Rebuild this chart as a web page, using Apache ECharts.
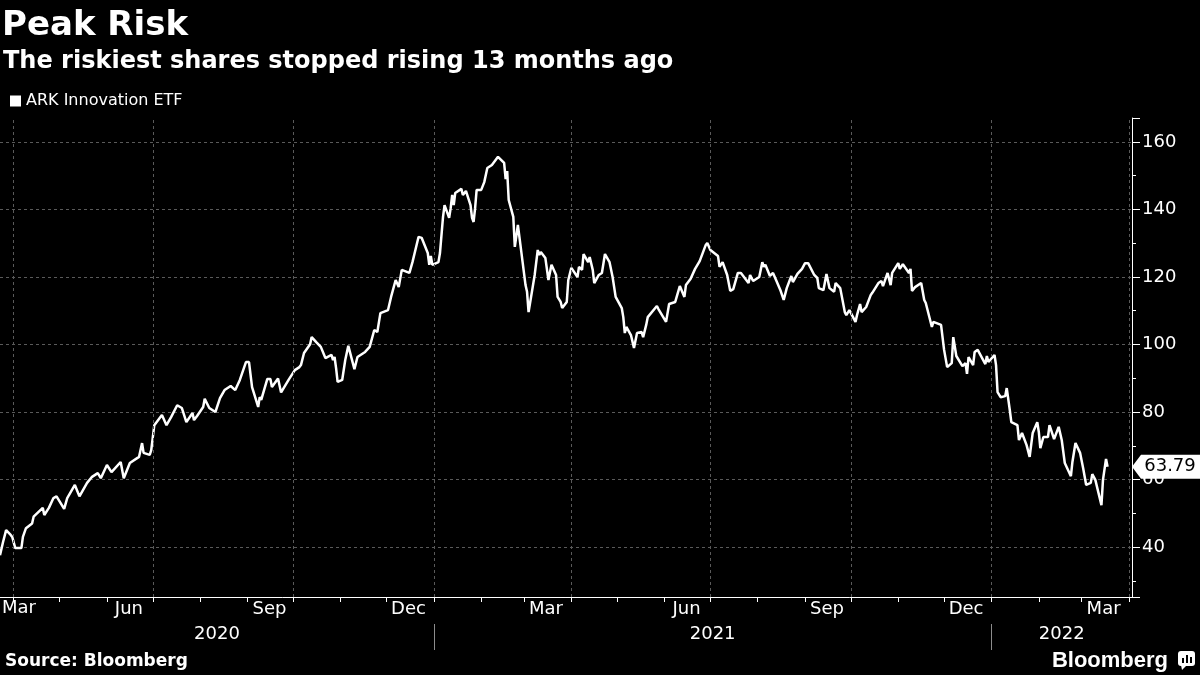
<!DOCTYPE html>
<html>
<head>
<meta charset="utf-8">
<title>Peak Risk</title>
<script src="https://cdn.jsdelivr.net/npm/echarts@6/dist/echarts.min.js"></script>
<style>
    html, body { margin: 0; padding: 0; background: #000; }
    #chart { width: 1200px; height: 675px; }
</style>
</head>
<body>
<div id="chart"></div>
<script>
// ARK Innovation ETF closing prices
var dates = [
    '2020-03-23','2020-03-25','2020-03-27','2020-03-30','2020-03-31','2020-04-02','2020-04-06','2020-04-07','2020-04-09','2020-04-13',
    '2020-04-14','2020-04-20','2020-04-21','2020-04-24','2020-04-27','2020-04-29','2020-05-04','2020-05-06','2020-05-11','2020-05-14',
    '2020-05-19','2020-05-22','2020-05-26','2020-05-28','2020-06-01','2020-06-04','2020-06-10','2020-06-12','2020-06-16','2020-06-22',
    '2020-06-24','2020-06-25','2020-06-29','2020-06-30','2020-07-02','2020-07-07','2020-07-10','2020-07-13','2020-07-17','2020-07-20',
    '2020-07-23','2020-07-27','2020-07-28','2020-07-30','2020-08-03','2020-08-04','2020-08-07','2020-08-11','2020-08-14','2020-08-17',
    '2020-08-21','2020-08-24','2020-08-27','2020-08-28','2020-08-31','2020-09-02','2020-09-04','2020-09-08','2020-09-09','2020-09-10',
    '2020-09-14','2020-09-16','2020-09-17','2020-09-21','2020-09-23','2020-09-28','2020-09-30','2020-10-02','2020-10-05','2020-10-06',
    '2020-10-08','2020-10-12','2020-10-13','2020-10-16','2020-10-19','2020-10-22','2020-10-26','2020-10-27','2020-10-28','2020-10-29',
    '2020-10-30','2020-11-02','2020-11-04','2020-11-06','2020-11-10','2020-11-12','2020-11-17','2020-11-20','2020-11-23','2020-11-25',
    '2020-11-27','2020-12-02','2020-12-04','2020-12-07','2020-12-09','2020-12-11','2020-12-16','2020-12-18','2020-12-22','2020-12-24',
    '2020-12-28','2020-12-29','2020-12-30','2020-12-31',
    '2021-01-04','2021-01-05','2021-01-07','2021-01-08','2021-01-11','2021-01-12','2021-01-13','2021-01-14','2021-01-15','2021-01-19',
    '2021-01-20','2021-01-22','2021-01-25','2021-01-26','2021-01-27','2021-01-28','2021-01-29','2021-02-01','2021-02-03','2021-02-05',
    '2021-02-08','2021-02-12','2021-02-16','2021-02-17','2021-02-18','2021-02-19','2021-02-22','2021-02-23','2021-02-25','2021-02-26',
    '2021-03-02','2021-03-03','2021-03-04','2021-03-08','2021-03-09','2021-03-10','2021-03-11','2021-03-12','2021-03-15','2021-03-17',
    '2021-03-19','2021-03-22','2021-03-23','2021-03-25','2021-03-26','2021-03-29','2021-03-30','2021-04-01','2021-04-05','2021-04-06',
    '2021-04-08','2021-04-09','2021-04-12','2021-04-13','2021-04-15','2021-04-16','2021-04-19','2021-04-21','2021-04-23','2021-04-26',
    '2021-04-28','2021-04-30','2021-05-04','2021-05-05','2021-05-06','2021-05-07','2021-05-10','2021-05-12','2021-05-14','2021-05-17',
    '2021-05-18','2021-05-20','2021-05-21','2021-05-27','2021-05-28','2021-06-02','2021-06-04','2021-06-08','2021-06-11','2021-06-14',
    '2021-06-15','2021-06-18','2021-06-21','2021-06-24','2021-06-28','2021-06-29','2021-07-01','2021-07-06','2021-07-07','2021-07-09',
    '2021-07-12','2021-07-14','2021-07-16','2021-07-19','2021-07-21','2021-07-22','2021-07-26','2021-07-27','2021-07-29','2021-08-02',
    '2021-08-04','2021-08-05','2021-08-06','2021-08-09','2021-08-11','2021-08-13','2021-08-16','2021-08-18','2021-08-20','2021-08-23',
    '2021-08-24','2021-08-27','2021-08-30','2021-09-01','2021-09-03','2021-09-07','2021-09-09','2021-09-10','2021-09-13','2021-09-15',
    '2021-09-17','2021-09-20','2021-09-21','2021-09-24','2021-09-27','2021-09-28','2021-09-30','2021-10-04','2021-10-05','2021-10-07',
    '2021-10-08','2021-10-11','2021-10-14','2021-10-15','2021-10-19','2021-10-21','2021-10-22','2021-10-25','2021-10-27','2021-10-28',
    '2021-11-01','2021-11-02','2021-11-04','2021-11-08','2021-11-09','2021-11-10','2021-11-12','2021-11-16','2021-11-18','2021-11-19',
    '2021-11-23','2021-11-24','2021-11-29','2021-12-01','2021-12-03','2021-12-06','2021-12-07','2021-12-09','2021-12-13','2021-12-15',
    '2021-12-16','2021-12-17','2021-12-20','2021-12-21','2021-12-23','2021-12-28','2021-12-29','2021-12-30',
    '2022-01-03','2022-01-04','2022-01-05','2022-01-07','2022-01-10','2022-01-11','2022-01-13','2022-01-14','2022-01-18','2022-01-19',
    '2022-01-21','2022-01-24','2022-01-26','2022-01-28','2022-01-31','2022-02-01','2022-02-02','2022-02-04','2022-02-07','2022-02-08',
    '2022-02-11','2022-02-14','2022-02-16','2022-02-18','2022-02-22','2022-02-23','2022-02-25','2022-02-28','2022-03-02','2022-03-04',
    '2022-03-07','2022-03-08','2022-03-10','2022-03-14','2022-03-15','2022-03-17','2022-03-18'
];
var prices = [
    37.6, 41.5, 45.0, 43.6, 43.0, 39.7, 39.7, 43.0, 45.6, 47.0,
    49.0, 51.6, 49.5, 51.6, 54.5, 55.0, 51.3, 54.5, 58.4, 55.0,
    59.0, 60.7, 61.9, 60.4, 64.3, 62.2, 65.2, 60.4, 64.9, 66.7,
    70.8, 67.9, 67.3, 68.7, 76.1, 79.1, 76.1, 78.5, 82.0, 81.2,
    77.0, 79.7, 77.6, 78.8, 81.5, 83.9, 81.2, 80.0, 84.1, 86.5,
    87.7, 86.5, 89.5, 89.5, 94.8, 94.8, 87.4, 81.5, 84.4, 83.6,
    89.8, 89.8, 87.4, 89.9, 85.8, 89.6, 91.0, 92.4, 93.3, 93.9,
    97.5, 100.1, 102.2, 100.7, 99.3, 96.0, 96.9, 95.4, 96.3, 93.0,
    88.9, 89.5, 95.4, 99.6, 92.7, 96.3, 97.8, 99.3, 104.3, 103.7,
    109.3, 110.2, 114.1, 119.1, 117.0, 122.1, 121.2, 124.4, 131.9, 131.6,
    127.1, 123.6, 126.2, 123.6,
    124.4, 127.1, 137.8, 141.3, 137.5, 140.4, 144.3, 141.3, 144.9, 146.1,
    144.3, 145.5, 141.3, 137.5, 136.3, 140.4, 145.8, 145.8, 148.1, 152.3,
    153.2, 155.6, 153.8, 149.0, 151.4, 142.8, 137.8, 128.9, 135.4, 131.9,
    117.6, 115.6, 109.6, 120.6, 121.0, 128.0, 126.5, 127.4, 125.6, 119.1,
    123.6, 120.6, 114.1, 112.6, 110.8, 112.6, 119.1, 122.7, 120.0, 123.0,
    122.1, 126.8, 124.4, 125.9, 122.1, 118.2, 120.6, 121.2, 126.8, 124.4,
    120.0, 114.1, 110.8, 108.1, 103.4, 105.2, 102.8, 99.0, 103.4, 103.7,
    102.2, 105.8, 108.1, 111.4, 110.5, 106.7, 112.0, 112.6, 117.3, 114.1,
    117.6, 119.4, 122.4, 124.7, 129.5, 130.1, 128.0, 126.2, 123.0, 124.4,
    120.6, 115.9, 116.4, 121.2, 121.2, 121.5, 118.2, 120.6, 118.8, 120.0,
    124.4, 123.0, 123.6, 120.3, 121.2, 119.1, 115.9, 113.2, 116.7, 120.3,
    118.5, 120.9, 122.4, 124.1, 124.1, 120.6, 119.7, 116.7, 116.1, 120.9,
    116.7, 115.6, 118.2, 116.7, 109.6, 108.7, 110.2, 106.7, 108.7, 112.0,
    109.6, 111.1, 114.7, 115.3, 118.2, 118.8, 117.3, 121.2, 117.6, 121.2,
    124.1, 122.4, 123.8, 121.2, 122.4, 115.9, 117.0, 118.2, 113.2, 112.3,
    105.2, 106.7, 105.8, 98.4, 93.3, 94.5, 102.2, 96.6, 93.6, 94.5,
    91.3, 96.3, 93.9, 97.8, 98.4, 94.2, 96.6, 94.8,
    96.9, 93.9, 85.9, 84.4, 84.7, 87.1, 80.6, 77.0, 76.1, 71.7,
    73.8, 70.2, 66.7, 73.8, 77.0, 74.1, 69.3, 72.6, 72.6, 76.1,
    72.0, 75.6, 71.7, 64.9, 61.0, 65.2, 70.8, 67.9, 63.4, 58.4,
    59.0, 61.6, 59.9, 52.4, 59.9, 66.1, 63.79
];

var seriesName = 'ARK Innovation ETF';
var axisStart = '2020-03-23';
var axisEnd = '2022-04-03';
var quarterStarts = ['2020-04-01','2020-07-01','2020-10-01','2021-01-01','2021-04-01',
                     '2021-07-01','2021-10-01','2022-01-01','2022-04-01'];
var years = ['2020', '2021', '2022'];
var monthNames = ['Jan','Feb','Mar','Apr','May','Jun','Jul','Aug','Sep','Oct','Nov','Dec'];
var labelMonths = [2, 5, 8, 11];

var DAY = 24 * 3600 * 1000;
var font = 'DejaVu Sans';

var seriesData = dates.map(function (d, i) { return [d, prices[i]]; });
var lastPrice = prices[prices.length - 1];

var chart = echarts.init(document.getElementById('chart'));

var option = {
    backgroundColor: '#000',
    animation: false,
    textStyle: { fontFamily: font },
    title: [
        {
            text: 'Peak Risk', left: 2, top: 9, padding: 0,
            textStyle: { color: '#fff', fontSize: 34, fontWeight: 'bold', fontFamily: font }
        },
        {
            text: 'The riskiest shares stopped rising 13 months ago', left: 3, top: 50, padding: 0,
            textStyle: { color: '#fff', fontSize: 24, fontWeight: 'bold', fontFamily: font }
        },
        {
            text: 'Source: Bloomberg', left: 5, top: 653, padding: 0,
            textStyle: { color: '#fff', fontSize: 17, fontWeight: 'bold', fontFamily: font }
        }
    ],
    legend: {
        data: [seriesName],
        left: 10, top: 93, padding: 0,
        icon: 'rect', itemWidth: 11, itemHeight: 11, itemGap: 4,
        textStyle: { color: '#fff', fontSize: 16, fontFamily: font },
        selectedMode: false
    },
    grid: { left: 0, right: 68, top: 118, bottom: 78 },
    xAxis: {
        type: 'time',
        min: axisStart,
        max: axisEnd,
        minInterval: 28 * DAY,
        maxInterval: 31 * DAY,
        axisLine: { lineStyle: { color: '#fff', width: 1 } },
        axisTick: { show: true, length: 5, lineStyle: { color: '#fff' } },
        splitLine: { show: false },
        axisLabel: {
            color: '#fff', fontSize: 18, fontFamily: font, margin: 3,
            align: 'center', padding: [0, 0, 0, 44],
            formatter: function (value) {
                var d = new Date(value);
                if (d.getDate() === 1 && labelMonths.indexOf(d.getMonth()) >= 0) {
                    return monthNames[d.getMonth()];
                }
                return '';
            }
        }
    },
    yAxis: {
        type: 'value',
        position: 'right',
        min: 25.2,
        max: 167.1,
        splitNumber: 7,
        axisLine: { show: true, lineStyle: { color: '#fff', width: 1 } },
        axisTick: { show: true, length: 8, lineStyle: { color: '#fff' } },
        minorTick: { show: true, splitNumber: 2, length: 4, lineStyle: { color: '#fff' } },
        axisLabel: {
            color: '#fff', fontSize: 18, fontFamily: font, margin: 10,
            showMinLabel: false, showMaxLabel: false
        },
        splitLine: {
            show: true, showMinLine: false, showMaxLine: false,
            lineStyle: { color: '#5a5a5a', type: [3, 3], width: 1 }
        }
    },
    series: [{
        name: seriesName,
        type: 'line',
        data: seriesData,
        showSymbol: false,
        symbol: 'none',
        color: '#fff',
        lineStyle: { color: '#fff', width: 2.5 },
        emphasis: { disabled: true },
        markLine: {
            silent: true,
            symbol: ['none', 'none'],
            label: { show: false },
            lineStyle: { color: '#5a5a5a', type: [3, 3], width: 1 },
            data: quarterStarts.map(function (q) { return { xAxis: q }; })
        },
        markPoint: {
            silent: true,
            symbol: 'path://M0,12 L9,0 L70,0 L70,24 L9,24 Z',
            symbolSize: [70, 24],
            symbolOffset: [35, 0],
            symbolKeepAspect: false,
            itemStyle: { color: '#fff' },
            label: {
                show: true, color: '#000', fontSize: 18, fontFamily: font,
                offset: [3, 0],
                formatter: function () { return lastPrice.toFixed(2); }
            },
            data: [{ coord: [axisEnd, lastPrice] }]
        }
    }]
};
chart.setOption(option);

// year row and branding, placed with the axis scale
function buildGraphics() {
    var x0 = chart.convertToPixel({ xAxisIndex: 0 }, axisStart);
    var x1 = chart.convertToPixel({ xAxisIndex: 0 }, axisEnd);
    var elements = [];
    years.forEach(function (y, i) {
        var left = i === 0 ? x0 : chart.convertToPixel({ xAxisIndex: 0 }, y + '-01-01');
        var right = i === years.length - 1 ? x1 : chart.convertToPixel({ xAxisIndex: 0 }, years[i + 1] + '-01-01');
        if (i > 0) {
            elements.push({
                type: 'line', silent: true,
                shape: { x1: Math.round(left) + 0.5, y1: 624, x2: Math.round(left) + 0.5, y2: 650 },
                style: { stroke: '#8c8c8c', lineWidth: 1 }
            });
        }
        elements.push({
            type: 'text', silent: true,
            x: (left + right) / 2, y: 634,
            style: {
                text: y, fill: '#fff', font: '18px "' + font + '"',
                align: 'center', verticalAlign: 'middle'
            }
        });
    });
    // first month label, its tick falls before the axis start
    elements.push({
        type: 'text', silent: true, x: 2, y: 608,
        style: { text: 'Mar', fill: '#fff', font: '18px "' + font + '"', align: 'left', verticalAlign: 'middle' }
    });
    // Bloomberg mark
    elements.push({
        type: 'text', silent: true, x: 1168, y: 661,
        style: {
            text: 'Bloomberg', fill: '#fff', font: 'bold 22px "Liberation Sans"',
            align: 'right', verticalAlign: 'middle'
        }
    });
    elements.push({
        type: 'group', silent: true, x: 1178, y: 651,
        children: [
            { type: 'rect', shape: { x: 0, y: 0, width: 17, height: 15, r: 3 }, style: { fill: '#fff' } },
            { type: 'polygon', shape: { points: [[3, 14], [9, 14], [4, 19]] }, style: { fill: '#fff' } },
            { type: 'rect', shape: { x: 4, y: 7, width: 2, height: 5 }, style: { fill: '#000' } },
            { type: 'rect', shape: { x: 8, y: 4, width: 2, height: 8 }, style: { fill: '#000' } },
            { type: 'rect', shape: { x: 12, y: 6, width: 2, height: 6 }, style: { fill: '#000' } }
        ]
    });
    chart.setOption({ graphic: elements });
}
buildGraphics();
</script>
</body>
</html>
